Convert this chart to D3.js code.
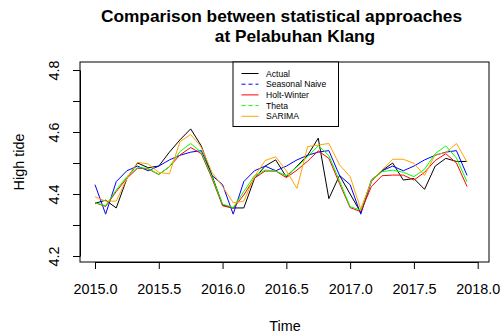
<!DOCTYPE html>
<html>
<head>
<meta charset="utf-8">
<script src="https://cdn.jsdelivr.net/npm/d3@7"></script>
<style>
  html, body { margin: 0; padding: 0; background: #fff; }
  svg text { font-family: "Liberation Sans", Arial, Helvetica, sans-serif; }
</style>
</head>
<body>
<div id="chart_container"></div>
<script>
// monthly series, Jan 2015 .. Dec 2017
const START_YEAR = 2015;
const FREQ = 12;

const actual = [
  4.37, 4.38, 4.355, 4.45, 4.50, 4.485, 4.49, 4.535, 4.575, 4.61, 4.555, 4.46,
  4.365, 4.355, 4.355, 4.45, 4.49, 4.51, 4.455, 4.49, 4.525, 4.58, 4.385, 4.46,
  4.40, 4.34, 4.445, 4.475, 4.50, 4.445, 4.45, 4.415, 4.49, 4.515, 4.505, 4.505,
];
const seasonalNaive = [
  4.43, 4.335, 4.44, 4.475, 4.49, 4.475, 4.49, 4.51, 4.525, 4.535, 4.54, 4.46,
  4.43, 4.335, 4.44, 4.475, 4.49, 4.475, 4.49, 4.51, 4.525, 4.535, 4.54, 4.46,
  4.43, 4.335, 4.44, 4.475, 4.49, 4.475, 4.49, 4.51, 4.525, 4.535, 4.54, 4.46,
];
const holtWinter = [
  4.372, 4.36, 4.408, 4.451, 4.483, 4.481, 4.463, 4.488, 4.526, 4.55, 4.53, 4.451,
  4.362, 4.354, 4.397, 4.451, 4.474, 4.474, 4.453, 4.477, 4.506, 4.539, 4.515, 4.434,
  4.356, 4.343, 4.424, 4.459, 4.461, 4.461, 4.445, 4.47, 4.508, 4.53, 4.50, 4.424,
];
const theta = [
  4.372, 4.362, 4.413, 4.456, 4.485, 4.483, 4.463, 4.488, 4.537, 4.563, 4.534, 4.456,
  4.367, 4.356, 4.408, 4.459, 4.477, 4.474, 4.459, 4.488, 4.52, 4.556, 4.524, 4.442,
  4.359, 4.348, 4.442, 4.472, 4.477, 4.47, 4.456, 4.48, 4.53, 4.555, 4.516, 4.439,
];
const sarima = [
  4.391, 4.377, 4.377, 4.45, 4.502, 4.497, 4.47, 4.465, 4.569, 4.592, 4.551, 4.47,
  4.424, 4.372, 4.377, 4.456, 4.508, 4.52, 4.475, 4.418, 4.553, 4.558, 4.563, 4.494,
  4.456, 4.351, 4.442, 4.477, 4.512, 4.512, 4.499, 4.46, 4.527, 4.533, 4.563, 4.503,
];

const seriesNames = ["Actual", "Seasonal Naive", "Holt-Winter", "Theta", "SARIMA"];
const seriesColors = ["#000000", "#0000ff", "#ff0000", "#00ff00", "#ffa500"];
const legendDash = [null, "4,3", null, "4,3", null];
const xTicks = [2015.0, 2015.5, 2016.0, 2016.5, 2017.0, 2017.5, 2018.0];
const yTicks = [4.2, 4.3, 4.4, 4.5, 4.6, 4.7, 4.8];
const yTickLabels = ["4.2", "", "4.4", "", "4.6", "", "4.8"];

const allSeries = [actual, seasonalNaive, holtWinter, theta, sarima];

// plot region (R base graphics box)
const BOX = Object.freeze({ left: 80, right: 489, top: 62, bottom: 262 });
const BASE_FONT = 14.4;

const svg = d3
  .select("#chart_container")
  .append("svg")
  .attr("width", 500)
  .attr("height", 335);

const x = d3.scaleLinear().domain([2015, 2018]).range([95, 477.7]);
const y = d3.scaleLinear().domain([4.2, 4.8]).range([256, 70]);

// series lines
const line = d3
  .line()
  .x((d, i) => x(START_YEAR + i / FREQ))
  .y((d) => y(d));

svg
  .append("g")
  .selectAll("path")
  .data(allSeries)
  .enter()
  .append("path")
  .attr("d", (d) => line(d))
  .attr("fill", "none")
  .attr("stroke", (d, i) => seriesColors[i])
  .attr("stroke-width", 1);

// box
svg
  .append("rect")
  .attr("x", BOX.left)
  .attr("y", BOX.top)
  .attr("width", BOX.right - BOX.left)
  .attr("height", BOX.bottom - BOX.top)
  .attr("fill", "none")
  .attr("stroke", "#000")
  .attr("stroke-width", 1);

// x axis
const xAxis = d3
  .axisBottom(x)
  .tickValues(xTicks)
  .tickSize(7)
  .tickPadding(15)
  .tickSizeOuter(0)
  .tickFormat(d3.format(".1f"));

const gx = svg
  .append("g")
  .attr("transform", `translate(0,${BOX.bottom})`)
  .call(xAxis);
gx.selectAll("text")
  .attr("font-size", BASE_FONT)
  .attr("fill", "#000")
  .attr("font-family", null);
gx.selectAll("line, path").attr("stroke", "#000");

// y axis
const yAxis = d3
  .axisLeft(y)
  .tickValues(yTicks)
  .tickSize(7)
  .tickSizeOuter(0)
  .tickFormat((d, i) => yTickLabels[i]);

const gy = svg
  .append("g")
  .attr("transform", `translate(${BOX.left},0)`)
  .call(yAxis);
gy.selectAll("line, path").attr("stroke", "#000");
gy.selectAll("text")
  .attr("font-size", BASE_FONT)
  .attr("font-family", null)
  .attr("fill", "#000")
  .attr("text-anchor", "middle")
  .attr("dy", 0)
  .attr("x", 0)
  .attr("transform", `translate(${59 - BOX.left},0) rotate(-90)`);

// axis titles
svg
  .append("text")
  .attr("x", 285)
  .attr("y", 331)
  .attr("text-anchor", "middle")
  .attr("font-size", BASE_FONT)
  .text("Time");

svg
  .append("text")
  .attr("transform", "translate(24,162) rotate(-90)")
  .attr("text-anchor", "middle")
  .attr("font-size", BASE_FONT)
  .text("High tide");

// title, two lines
svg
  .append("text")
  .attr("x", 281.5)
  .attr("y", 22)
  .attr("text-anchor", "middle")
  .attr("font-size", 17.3)
  .attr("font-weight", "bold")
  .text("Comparison between statistical approaches");

svg
  .append("text")
  .attr("x", 295)
  .attr("y", 41.5)
  .attr("text-anchor", "middle")
  .attr("font-size", 17.3)
  .attr("font-weight", "bold")
  .text("at Pelabuhan Klang");

// legend
const legend = svg.append("g");
legend
  .append("rect")
  .attr("x", 233)
  .attr("y", BOX.top)
  .attr("width", 105.5)
  .attr("height", 64.5)
  .attr("fill", "#fff")
  .attr("stroke", "#000")
  .attr("stroke-width", 1);

const items = legend
  .selectAll("g.item")
  .data(seriesNames)
  .enter()
  .append("g")
  .attr("class", "item")
  .attr("transform", (d, i) => `translate(0,${73.5 + i * 10.7})`);

items
  .append("line")
  .attr("x1", 241.5)
  .attr("x2", 258.5)
  .attr("y1", 0)
  .attr("y2", 0)
  .attr("stroke", (d, i) => seriesColors[i])
  .attr("stroke-dasharray", (d, i) => legendDash[i])
  .attr("stroke-width", 1);

items
  .append("text")
  .attr("x", 266)
  .attr("y", 3)
  .attr("font-size", 8.6)
  .text((d) => d);
</script>
</body>
</html>
